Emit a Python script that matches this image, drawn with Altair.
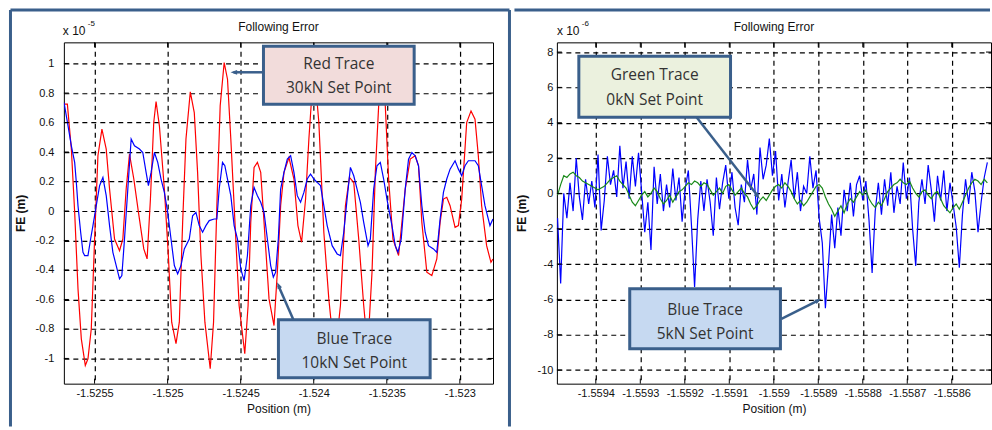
import altair as alt
import pandas as pd

# ---------------- data: left panel (x 1e-5 m) ----------------
red30_pos = [
    -1.5257088, -1.5256861, -1.5256588, -1.5256361, -1.5256133, -1.5255906, -1.5255633, -1.5255451, -1.5255224, -1.5254996,
    -1.5254769, -1.5254496, -1.5254201, -1.5253973, -1.5253632, -1.5253291, -1.5253064, -1.5252836, -1.5252609, -1.5252313,
    -1.5251995, -1.5251631, -1.5251404, -1.5251176, -1.5250949, -1.5250790, -1.5250563, -1.5250222, -1.5249949, -1.5249721,
    -1.5249426, -1.5249198, -1.5248971, -1.5248744, -1.5248448, -1.5248175, -1.5247948, -1.5247720, -1.5247448, -1.5247084,
    -1.5246856, -1.5246629, -1.5246402, -1.5246129, -1.5245901, -1.5245674, -1.5245447, -1.5245106, -1.5244719, -1.5244492,
    -1.5244310, -1.5244083, -1.5243855, -1.5243628, -1.5243400, -1.5243059, -1.5242718, -1.5242491, -1.5242264, -1.5242036,
    -1.5241695, -1.5241354, -1.5241081, -1.5240831, -1.5240558, -1.5240331, -1.5240104, -1.5239922, -1.5239649, -1.5239308,
    -1.5238967, -1.5238557, -1.5238171, -1.5237830, -1.5237557, -1.5237261, -1.5236920, -1.5236579, -1.5236306, -1.5236011,
    -1.5235784, -1.5235556, -1.5235329, -1.5235101, -1.5234874, -1.5234578, -1.5234192, -1.5233737, -1.5233396, -1.5233055,
    -1.5232828, -1.5232600, -1.5232259, -1.5231918, -1.5231577, -1.5231350, -1.5231122, -1.5230895, -1.5230668, -1.5230327,
    -1.5230099, -1.5229872, -1.5229531, -1.5229235, -1.5228962, -1.5228735, -1.5228508, -1.5228167, -1.5227871, -1.5227735,
]
red30_fe = [
    0.725, 0.725, 0.42, -0.009, -0.528, -0.867, -1.047, -1.002, -0.799, -0.19,
    0.375, 0.555, 0.42, 0.149, -0.19, -0.269, -0.19, 0.149, 0.386, 0.217,
    -0.009, -0.257, -0.325, 0.081, 0.60, 0.743, 0.578, 0.149, -0.302, -0.754,
    -0.90, -0.754, -0.077, 0.488, 0.808, 0.668, 0.262, -0.302, -0.754, -1.07,
    -0.754, 0.036, 0.713, 1.007, 0.894, 0.488, 0.036, -0.641, -0.968, -0.641,
    -0.077, 0.296, 0.33, 0.262, -0.077, -0.596, -0.777, -0.415, 0.036, 0.262,
    0.363, 0.217, -0.099, -0.212, 0.081, 0.488, 0.826, 0.921, 0.60, -0.144,
    -0.596, -1.002, -0.641, 0.036, 0.228, 0.194, -0.19, -0.641, -0.935, -0.415,
    0.262, 0.713, 0.916, 0.713, 0.217, -0.19, -0.302, 0.149, 0.352, 0.375,
    0.307, -0.077, -0.415, -0.438, -0.325, -0.077, 0.081, 0.093, 0.036, -0.111,
    -0.099, 0.081, 0.60, 0.679, 0.623, 0.375, 0.036, -0.235, -0.348, -0.325,
]
blue10_pos = [
    -1.5257088, -1.5256815, -1.5256588, -1.5256361, -1.5256247, -1.5256133, -1.5255951, -1.5255792, -1.5255678, -1.5255451,
    -1.5255269, -1.5255110, -1.5254883, -1.5254655, -1.5254428, -1.5254201, -1.5253973, -1.5253746, -1.5253518, -1.5253291,
    -1.5253132, -1.5252950, -1.5252723, -1.5252495, -1.5252268, -1.5251927, -1.5251699, -1.5251472, -1.5251313, -1.5251131,
    -1.5250904, -1.5250676, -1.5250449, -1.5250222, -1.5249994, -1.5249767, -1.5249539, -1.5249312, -1.5249085, -1.5248857,
    -1.5248516, -1.5248289, -1.5248062, -1.5247834, -1.5247607, -1.5247379, -1.5247152, -1.5246811, -1.5246629, -1.5246470,
    -1.5246243, -1.5246083, -1.5245901, -1.5245674, -1.5245447, -1.5245219, -1.5244992, -1.5244765, -1.5244537, -1.5244310,
    -1.5244083, -1.5243855, -1.5243628, -1.5243400, -1.5243173, -1.5242946, -1.5242764, -1.5242605, -1.5242423, -1.5242264,
    -1.5242036, -1.5241809, -1.5241581, -1.5241354, -1.5241127, -1.5240899, -1.5240672, -1.5240445, -1.5240217, -1.5239990,
    -1.5239763, -1.5239535, -1.5239308, -1.5239080, -1.5238739, -1.5238398, -1.5238171, -1.5237944, -1.5237716, -1.5237489,
    -1.5237261, -1.5237034, -1.5236807, -1.5236579, -1.5236284, -1.5236125, -1.5235897, -1.5235670, -1.5235442, -1.5235215,
    -1.5234988, -1.5234647, -1.5234419, -1.5234237, -1.5234010, -1.5233737, -1.5233510, -1.5233282, -1.5233055, -1.5232828,
    -1.5232600, -1.5232373, -1.5232146, -1.5231805, -1.5231577, -1.5231350, -1.5231122, -1.5230895, -1.5230668, -1.5230327,
    -1.5230099, -1.5229872, -1.5229645, -1.5229417, -1.5228962, -1.5228735, -1.5228508, -1.5228280, -1.5227939, -1.5227735,
]
blue10_fe = [
    0.736, 0.578, 0.442, 0.33, 0.194, 0.036, -0.144, -0.28, -0.302, -0.302,
    -0.19, -0.099, 0.036, 0.172, 0.228, 0.104, -0.099, -0.28, -0.37, -0.46,
    -0.438, -0.19, 0.149, 0.488, 0.442, 0.42, 0.397, 0.262, 0.172, 0.262,
    0.397, 0.33, 0.217, 0.126, -0.009, -0.19, -0.37, -0.427, -0.37, -0.257,
    -0.19, -0.032, -0.009, -0.099, -0.144, -0.099, -0.065, -0.054, -0.054, 0.149,
    0.33, 0.307, 0.217, 0.104, -0.099, -0.19, -0.393, -0.472, -0.302, 0.036,
    0.16, 0.104, 0.059, -0.009, -0.19, -0.37, -0.449, -0.415, -0.19, 0.149,
    0.262, 0.352, 0.375, 0.262, 0.104, 0.059, 0.126, 0.217, 0.251, 0.217,
    0.194, 0.172, 0.036, -0.099, -0.235, -0.291, -0.302, -0.144, 0.081, 0.296,
    0.239, 0.149, 0.059, -0.077, -0.235, -0.19, 0.149, 0.307, 0.33, 0.217,
    0.081, -0.099, -0.235, -0.28, -0.19, 0.149, 0.352, 0.397, 0.375, 0.307,
    0.036, -0.144, -0.235, -0.257, -0.28, -0.054, 0.126, 0.217, 0.284, 0.341,
    0.284, 0.239, 0.307, 0.341, 0.341, 0.307, 0.172, 0.036, -0.099, -0.054,
]

# ---------------- data: right panel (x 1e-6 m) ----------------
right_pos = [
    -1.559486, -1.559479, -1.559472, -1.559465, -1.559458, -1.559451, -1.559444, -1.559437, -1.559430, -1.559423,
    -1.559416, -1.559409, -1.559402, -1.559395, -1.559388, -1.559381, -1.559374, -1.559367, -1.559360, -1.559353,
    -1.559346, -1.559339, -1.559332, -1.559325, -1.559318, -1.559311, -1.559304, -1.559297, -1.559290, -1.559283,
    -1.559276, -1.559269, -1.559262, -1.559255, -1.559248, -1.559241, -1.559234, -1.559227, -1.559220, -1.559213,
    -1.559206, -1.559199, -1.559192, -1.559185, -1.559178, -1.559171, -1.559164, -1.559157, -1.559150, -1.559143,
    -1.559136, -1.559129, -1.559122, -1.559115, -1.559108, -1.559101, -1.559094, -1.559087, -1.559080, -1.559073,
    -1.559066, -1.559059, -1.559052, -1.559045, -1.559038, -1.559031, -1.559024, -1.559017, -1.559010, -1.559003,
    -1.558996, -1.558989, -1.558982, -1.558975, -1.558968, -1.558961, -1.558954, -1.558947, -1.558940, -1.558933,
    -1.558926, -1.558919, -1.558912, -1.558905, -1.558898, -1.558891, -1.558884, -1.558877, -1.558870, -1.558863,
    -1.558856, -1.558849, -1.558842, -1.558835, -1.558828, -1.558821, -1.558814, -1.558807, -1.558800, -1.558793,
    -1.558786, -1.558779, -1.558772, -1.558765, -1.558758, -1.558751, -1.558744, -1.558737, -1.558730, -1.558723,
    -1.558716, -1.558709, -1.558702, -1.558695, -1.558688, -1.558681, -1.558674, -1.558667, -1.558660, -1.558653,
    -1.558646, -1.558639, -1.558632, -1.558625, -1.558618, -1.558611, -1.558604, -1.558597, -1.558590, -1.558583,
    -1.558576, -1.558569, -1.558562, -1.558555, -1.558548, -1.558541, -1.558534, -1.558527, -1.558520,
]
blue5_fe = [
    -1.4, -5.1, 0.0, -1.4, 0.6, -1.0, 2.0, -0.2, -1.5, 0.8,
    -0.6, 0.7, -0.8, 2.2, -2.1, -0.4, 2.1, 0.5, 1.3, -0.2,
    2.7, 0.3, 1.8, -0.3, 2.1, 0.4, 2.3, 0.1, -2.2, -0.5,
    -3.2, 1.5, -0.6, 1.1, -1.0, 0.5, -0.8, 1.4, -0.4, 0.9,
    -1.6, 0.3, 1.3, -1.8, -5.3, -1.5, 0.7, -1.0, 0.8, -0.5,
    -2.4, 0.9, -0.9, 0.6, 1.6, -0.3, 1.2, -0.8, -1.8, 0.5,
    -0.5, 1.9, 0.2, 1.1, -1.2, 2.6, 0.8, 1.6, 3.1, 1.0,
    2.4, -0.4, 1.1, -0.8, 0.6, 1.9, -0.3, 1.2, -1.0, 0.4,
    0.0, 2.1, 0.3, 1.3, -1.4, -2.8, -6.5, -4.0, -1.2, -3.1,
    -0.8, -2.4, 0.2, -1.0, 0.6, -1.3, 0.5, 1.0, -0.4, 0.7,
    -1.5, -4.5, -1.0, 0.6, -1.2, 0.8, -0.7, 1.2, -1.1, 0.4,
    -0.6, 1.75, -0.3, 0.9, -2.0, -4.1, -0.5, 0.8, -0.6, 1.6,
    0.2, -1.6, 1.0, -0.4, 1.3, -1.0, 0.6, -0.6, -1.9, -4.2,
    -1.2, 0.8, -0.6, 1.2, 0.1, -2.2, -0.5, 0.9, 1.75,
]
green0_fe = [
    -0.1, 0.5, 1.0, 0.9, 1.1, 1.2, 1.0, 0.9, 0.7, 0.6,
    0.5, 0.4, 0.3, 0.2, 0.3, 0.4, 0.6, 0.8, 0.9, 1.0,
    0.7, 0.5, 0.3, -0.1, -0.5, -0.7, -0.4, -0.1, 0.1, -0.2,
    0.0, 0.3, 0.1, -0.3, -0.6, -0.4, -0.1, -0.5, -0.2, 0.1,
    0.2, 0.4, 0.6, 0.5, 0.7, 0.6, 0.4, 0.6, 0.5, 0.2,
    -0.1, 0.1, 0.3, 0.0, 0.4, 0.5, 0.2, -0.1, 0.1, 0.3,
    0.0, -0.2, -0.6, -0.9, -0.7, -0.4, -0.2, -0.4, -0.1, 0.2,
    0.4, 0.5, 0.3, 0.6, 0.4, 0.1, -0.3, -0.6, -0.4, -0.7,
    -0.5, -0.2, 0.1, 0.4, 0.5, 0.3, -0.2, -0.6, -0.9, -1.3,
    -1.0, -0.7, -1.1, -0.6, -0.3, -0.5, -0.2, 0.1, -0.1, 0.2,
    -0.3, -0.6, -0.8, -0.5, -0.7, -0.3, 0.1, 0.3, 0.5, 0.6,
    0.8, 0.6, 0.5, 0.7, 0.3, 0.0, -0.2, 0.1, 0.2, -0.1,
    -0.3, 0.0, 0.1, -0.3, -0.7, -0.9, -1.1, -0.8, -0.6, -0.9,
    -0.5, -0.1, 0.3, 0.6, 0.8, 0.7, 0.5, 0.8, 0.6,
]

left_xticks = [-1.5255, -1.525, -1.5245, -1.524, -1.5235, -1.523]
left_yticks = [-1, -0.8, -0.6, -0.4, -0.2, 0, 0.2, 0.4, 0.6, 0.8, 1]
right_xticks = [-1.5594, -1.5593, -1.5592, -1.5591, -1.559, -1.5589, -1.5588, -1.5587, -1.5586]
right_yticks = [-10, -8, -6, -4, -2, 0, 2, 4, 6, 8]

# ---------------- styling ----------------
FONT = "Liberation Sans"
NOTE_FONT = "Open Sans"
FRAME = "#3a5f8b"
TXT = "#111111"
W1, W2, H = 430, 435, 342
TICK = 5
dummy = pd.DataFrame({"k": [0]})


def rule(x1, y1, x2, y2, color, width):
    return alt.Chart(dummy).mark_rule(color=color, strokeWidth=width, strokeCap="butt").encode(
        x=alt.value(x1), y=alt.value(y1), x2=alt.value(x2), y2=alt.value(y2))


def label(s, x, y, size, font=FONT, color=TXT, align="center"):
    return alt.Chart(dummy).mark_text(text=s, fontSize=size, font=font, color=color,
                                      align=align, baseline="middle").encode(
        x=alt.value(x), y=alt.value(y))


def box(x1, y1, x2, y2, fill):
    return alt.Chart(dummy).mark_rect(fill=fill, stroke=FRAME, strokeWidth=3).encode(
        x=alt.value(x1), x2=alt.value(x2), y=alt.value(y1), y2=alt.value(y2))


def head(x, y, angle):
    return alt.Chart(dummy).mark_point(shape="M0,0L-0.8,2.2L0.8,2.2Z", filled=True, size=36,
                                       angle=angle, color=FRAME, opacity=1, strokeWidth=0).encode(
        x=alt.value(x), y=alt.value(y))


def trace(df, color, xenc, yenc):
    return alt.Chart(df).mark_line(color=color, strokeWidth=1.2, clip=True).encode(x=xenc, y=yenc)


def inner_ticks(xticks, yticks, xenc, yenc, w, h):
    xdf = pd.DataFrame({"pos": xticks})
    ydf = pd.DataFrame({"fe": yticks})
    base_x = alt.Chart(xdf).mark_rule(color="black", strokeWidth=1)
    base_y = alt.Chart(ydf).mark_rule(color="black", strokeWidth=1)
    return [
        base_x.encode(x=xenc, y=alt.value(0), y2=alt.value(TICK)),
        base_x.encode(x=xenc, y=alt.value(h - TICK), y2=alt.value(h)),
        base_y.encode(y=yenc, x=alt.value(0), x2=alt.value(TICK)),
        base_y.encode(y=yenc, x=alt.value(w - TICK), x2=alt.value(w)),
    ]


lab_expr = "'' + datum.value"

# ---------------- left panel ----------------
xL = alt.X("pos:Q", scale=alt.Scale(domain=[-1.525710, -1.522773], nice=False, zero=False),
           axis=alt.Axis(values=left_xticks, labelExpr=lab_expr, title="Position (m)",
                         labelPadding=4, titlePadding=5))
yL = alt.Y("fe:Q", scale=alt.Scale(domain=[-1.171, 1.144], nice=False, zero=False),
           axis=alt.Axis(values=left_yticks, labelExpr=lab_expr, title="FE (m)",
                         labelPadding=10, titlePadding=7, titleFontWeight="bold"))

red_df = pd.DataFrame({"pos": red30_pos, "fe": red30_fe})
blue10_df = pd.DataFrame({"pos": blue10_pos, "fe": blue10_fe})

left = alt.layer(
    trace(red_df, "#ff0000", xL, yL),
    trace(blue10_df, "#0000ff", xL, yL),
    *inner_ticks(left_xticks, left_yticks, xL, yL, W1, H),
    label("Following Error", W1 / 2, -15, 12),
    label("x 10", -1, -11, 12, align="left"),
    label("-5", 24, -18, 8, align="left"),
    rule(-53.5, -32.5, -53.5, 385, FRAME, 3),
    rule(-53.5, -32.5, 446.5, -32.5, FRAME, 3),
    rule(446.5, -32.5, 446.5, 385, FRAME, 3),
    # red annotation
    rule(200, 30, 170, 30, FRAME, 2.5),
    head(167, 30, 270),
    box(200, 4, 351, 62, "#f2dcdb"),
    label("Red Trace", 275.5, 22, 15.5, font=NOTE_FONT, color="#333"),
    label("30kN Set Point", 275.5, 46, 15.5, font=NOTE_FONT, color="#333"),
    # blue annotation
    rule(230, 278, 215, 244, FRAME, 2.5),
    head(213.7, 240.3, 336),
    box(215, 278, 367, 336, "#c6d9f1"),
    label("Blue Trace", 291, 297, 15.5, font=NOTE_FONT, color="#333"),
    label("10kN Set Point", 291, 321, 15.5, font=NOTE_FONT, color="#333"),
).properties(width=W1, height=H)

# ---------------- right panel ----------------
xR = alt.X("pos:Q", scale=alt.Scale(domain=[-1.5594875, -1.5585118], nice=False, zero=False),
           axis=alt.Axis(values=right_xticks, labelExpr=lab_expr, title="Position (m)",
                         labelPadding=4, titlePadding=5))
yR = alt.Y("fe:Q", scale=alt.Scale(domain=[-10.77, 8.55], nice=False, zero=False),
           axis=alt.Axis(values=right_yticks, labelExpr=lab_expr, title="FE (m)",
                         labelPadding=4, titlePadding=9, titleFontWeight="bold"))

blue5_df = pd.DataFrame({"pos": right_pos, "fe": blue5_fe})
green_df = pd.DataFrame({"pos": right_pos, "fe": green0_fe})

right = alt.layer(
    trace(blue5_df, "#0000ff", xR, yR),
    trace(green_df, "#1a8a1a", xR, yR),
    *inner_ticks(right_xticks, right_yticks, xR, yR, W2, H),
    label("Following Error", W2 / 2, -15, 12),
    label("x 10", 0, -11, 12, align="left"),
    label("-6", 25, -18, 8, align="left"),
    rule(-42.5, -32.5, 434, -32.5, FRAME, 3),
    # green annotation
    rule(140, 75, 201, 153.5, FRAME, 2.5),
    head(203.3, 157, 142),
    box(22, 14, 174, 75, "#ebf1de"),
    label("Green Trace", 98, 33, 15.5, font=NOTE_FONT, color="#333"),
    label("0kN Set Point", 98, 58, 15.5, font=NOTE_FONT, color="#333"),
    # blue annotation
    rule(225, 277, 262, 258.5, FRAME, 2.5),
    head(265, 257, 63),
    box(73, 247, 224, 307, "#c6d9f1"),
    label("Blue Trace", 148.5, 268, 15.5, font=NOTE_FONT, color="#333"),
    label("5kN Set Point", 148.5, 292, 15.5, font=NOTE_FONT, color="#333"),
).properties(width=W2, height=H)

chart = alt.hconcat(left, right, spacing=0).properties(
    padding={"left": 8, "top": 7, "right": 0, "bottom": 0},
    background="white",
).configure_view(
    stroke="black", strokeWidth=1
).configure_axis(
    labelFont=FONT, labelFontSize=11, labelColor=TXT,
    titleFont=FONT, titleFontSize=12, titleColor=TXT, titleFontWeight="normal",
    grid=True, gridColor="black", gridDash=[5, 4], gridWidth=1.2, gridOpacity=1,
    domain=False, ticks=False, labelOverlap=False, labelBound=False, labelFlush=False,
)

chart.save("out.html", embed_options={"renderer": "svg", "actions": False})
